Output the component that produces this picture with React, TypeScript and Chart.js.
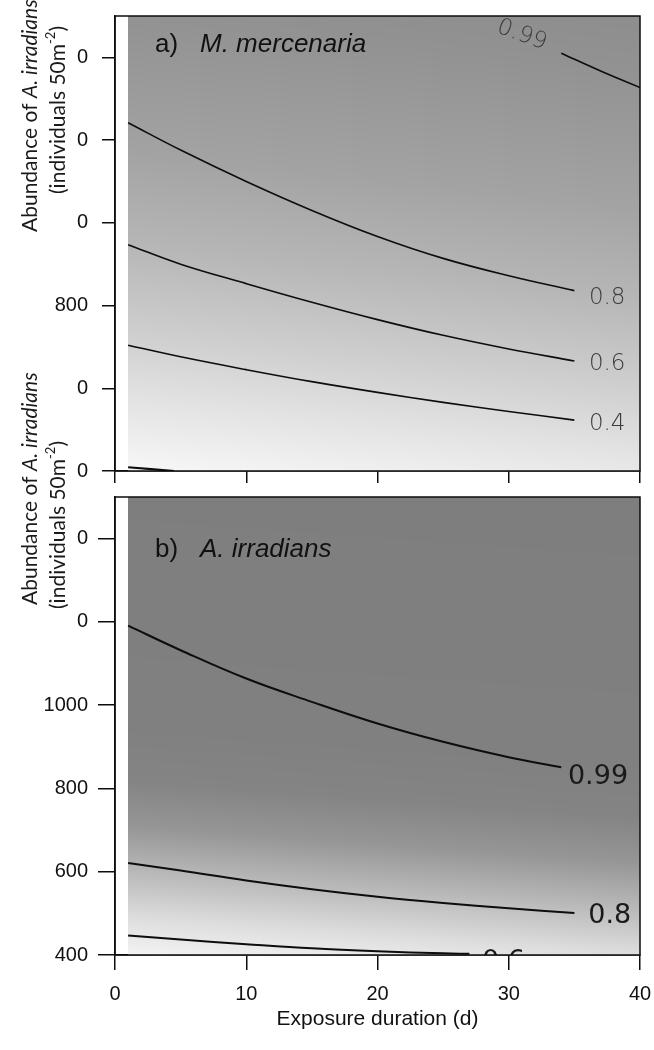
import React, { useEffect, useRef } from "react";
import { Chart, registerables } from "chart.js";

Chart.register(...registerables);

const W = 654;
const H = 1050;

// ---- shared axes ----
const yTickValues = [400, 600, 800, 1000, 1200, 1400];
const xTickValues = [0, 10, 20, 30, 40];
const yTickTextA = ["0", "0", "800", "0", "0", "0"];
const yTickTextB = ["400", "600", "800", "1000", "0", "0"];
const xTickText = ["0", "10", "20", "30", "40"];
const shadeStartDay = 1;

// ---- panel a: M. mercenaria (contours of probability) ----
const daysA = [1, 5, 10, 15, 20, 25, 30, 35];
const mercP80 = [1242, 1176, 1100, 1030, 967, 914, 872, 836];
const mercP60 = [947, 900, 853, 808, 766, 728, 695, 666];
const mercP40 = [704, 676, 645, 616, 590, 566, 544, 523];
const mercP99Days = [34, 37, 40];
const mercP99 = [1410, 1367, 1327];
const mercP20Days = [1, 4.5];
const mercP20 = [409, 400];

// ---- panel b: A. irradians ----
const irrP99Days = [1, 5, 10, 15, 20, 25, 30, 34];
const irrP99 = [1191, 1132, 1064, 1008, 956, 912, 875, 851];
const irrP80Days = [1, 5, 10, 15, 20, 25, 30, 35];
const irrP80 = [621, 603, 579, 558, 540, 525, 512, 501];
const irrP60Days = [1, 5, 10, 15, 20, 25, 27];
const irrP60 = [447, 437, 426, 416, 409, 404, 403];

// contour label anchors (data units)
const labelsA = [
  { text: "0.99", x: 31.0, y: 1454, rot: 20 },
  { text: "0.8", x: 37.5, y: 818, rot: 0 },
  { text: "0.6", x: 37.5, y: 659, rot: 0 },
  { text: "0.4", x: 37.5, y: 514, rot: 0 },
];
const labelsB = [
  { text: "0.99", x: 36.8, y: 827, rot: 0 },
  { text: "0.8", x: 37.7, y: 494, rot: 0 },
  { text: "0.6", x: 29.6, y: 383, rot: 0 },
];

const shadeStopsA: [number, number][] = [
  [-0.2, 138], [0, 146], [0.3, 163], [0.5, 182], [0.7, 207], [0.85, 228], [1.0, 247],
];
const shadeStopsB: [number, number][] = [
  [-0.1, 126], [0.5, 128], [0.62, 132], [0.72, 150], [0.82, 185], [0.92, 222], [1.0, 243],
];

const SANS = '"Liberation Sans", Arial, sans-serif';
const HUMAN = 'Lato, "Open Sans", sans-serif';
const DEJA = '"DejaVu Sans", sans-serif';

type Seg = { t: string; italic?: boolean; sup?: boolean };
const yTitle1: Seg[] = [{ t: "Abundance of " }, { t: "A. irradians", italic: true }];
const yTitle2: Seg[] = [{ t: "(individuals 50m" }, { t: "-2", sup: true }, { t: ")" }];

function interp(stops: [number, number][], s: number) {
  if (s <= stops[0][0]) return stops[0][1];
  for (let i = 1; i < stops.length; i++) {
    if (s <= stops[i][0]) {
      const [s0, g0] = stops[i - 1];
      const [s1, g1] = stops[i];
      return g0 + ((s - s0) / (s1 - s0)) * (g1 - g0);
    }
  }
  return stops[stops.length - 1][1];
}

function drawRotRich(
  ctx: CanvasRenderingContext2D, segs: Seg[], x: number, y: number,
  size: number, anchor: "start" | "center"
) {
  ctx.save();
  ctx.translate(x, y);
  ctx.rotate(-Math.PI / 2);
  const font = (s: Seg) =>
    `${s.italic ? "italic " : ""}${s.sup ? Math.round(size * 0.62) : size}px ${HUMAN}`;
  let total = 0;
  for (const s of segs) {
    ctx.font = font(s);
    total += ctx.measureText(s.t).width;
  }
  let cx = anchor === "center" ? -total / 2 : 0;
  ctx.textBaseline = "middle";
  ctx.textAlign = "left";
  ctx.fillStyle = "#1a1a1a";
  for (const s of segs) {
    ctx.font = font(s);
    ctx.fillText(s.t, cx, s.sup ? -size * 0.33 : 0);
    cx += ctx.measureText(s.t).width;
  }
  ctx.restore();
}

function ds(xs: number[], ys: number[], width: number) {
  return {
    data: xs.map((x, i) => ({ x, y: ys[i] })),
    borderColor: "#0d0d0d",
    borderWidth: width,
    pointRadius: 0,
    fill: false,
    tension: 0.4,
  };
}

function makePlugins(
  stops: [number, number][], tilt: number,
  labels: { text: string; x: number; y: number; rot: number }[],
  labelFont: string, labelColor: string,
  panelLetter: string, panelName: string, letterBaseline: number,
  title1Start: number, title2Center: number
) {
  return [
    {
      id: "shade",
      beforeDatasetsDraw(chart: any) {
        const { ctx, chartArea, scales } = chart;
        const x0 = Math.round(scales.x.getPixelForValue(shadeStartDay));
        const x1 = Math.round(chartArea.right);
        const y0 = Math.round(chartArea.top);
        const y1 = Math.round(chartArea.bottom);
        const w = x1 - x0;
        const h = y1 - y0;
        const img = ctx.createImageData(w, h);
        for (let j = 0; j < h; j++) {
          const t = (j + 0.5) / h;
          for (let i = 0; i < w; i++) {
            const u = (i + 0.5) / w;
            const g = interp(stops, t - tilt * u);
            const k = (j * w + i) * 4;
            img.data[k] = g;
            img.data[k + 1] = g;
            img.data[k + 2] = g;
            img.data[k + 3] = 255;
          }
        }
        ctx.putImageData(img, x0, y0);
      },
      afterDatasetsDraw(chart: any) {
        const { ctx, chartArea, scales } = chart;
        ctx.save();
        ctx.beginPath();
        ctx.rect(chartArea.left, chartArea.top, chartArea.right - chartArea.left, chartArea.bottom - chartArea.top);
        ctx.clip();
        ctx.font = labelFont;
        ctx.fillStyle = labelColor;
        ctx.textAlign = "center";
        ctx.textBaseline = "middle";
        for (const l of labels) {
          const px = scales.x.getPixelForValue(l.x);
          const py = scales.y.getPixelForValue(l.y);
          ctx.save();
          ctx.translate(px, py);
          ctx.rotate((l.rot * Math.PI) / 180);
          ctx.fillText(l.text, 0, 0);
          ctx.restore();
        }
        ctx.restore();

        // panel box
        ctx.save();
        ctx.strokeStyle = "#0d0d0d";
        ctx.lineWidth = 1.5;
        ctx.strokeRect(chartArea.left, chartArea.top, chartArea.right - chartArea.left, chartArea.bottom - chartArea.top);
        ctx.restore();

        // panel heading
        ctx.save();
        ctx.fillStyle = "#111";
        ctx.textAlign = "left";
        ctx.textBaseline = "alphabetic";
        ctx.font = `26px ${SANS}`;
        ctx.fillText(panelLetter, 155, letterBaseline);
        ctx.font = `italic 26px ${SANS}`;
        ctx.fillText(panelName, 200, letterBaseline);
        ctx.restore();

        // y titles
        drawRotRich(ctx, yTitle1, 30, title1Start, 21, "start");
        drawRotRich(ctx, yTitle2, 58, title2Center, 21, "center");
      },
    },
  ];
}

function zeroPad(s: any) {
  s.paddingTop = 0;
  s.paddingBottom = 0;
  s.paddingLeft = 0;
  s.paddingRight = 0;
}

function scalesFor(yText: string[], xHeight: number, showX: boolean, yTick: number, yPad: number, xTick: number) {
  return {
    x: {
      type: "linear" as const,
      min: 0,
      max: 40,
      afterBuildTicks: (s: any) => {
        s.ticks = xTickValues.map((v) => ({ value: v }));
      },
      afterFit: (s: any) => {
        s.height = xHeight;
        zeroPad(s);
      },
      ticks: {
        display: showX,
        callback: (_v: any, i: number) => xTickText[i],
        font: { family: SANS, size: 20 },
        color: "#111",
        padding: 12,
        maxRotation: 0,
      },
      grid: { drawOnChartArea: false, drawTicks: true, tickLength: xTick, color: "#0d0d0d", lineWidth: 1.5 },
      border: { display: true, color: "#0d0d0d", width: 1.5 },
      title: {
        display: showX,
        text: "Exposure duration (d)",
        font: { family: SANS, size: 21 },
        color: "#111",
        padding: { top: 0, bottom: 18 },
      },
    },
    y: {
      type: "linear" as const,
      min: 400,
      max: 1500,
      afterBuildTicks: (s: any) => {
        s.ticks = yTickValues.map((v) => ({ value: v }));
      },
      afterFit: (s: any) => {
        s.width = 115;
        zeroPad(s);
      },
      ticks: {
        callback: (_v: any, i: number) => yText[i],
        font: { family: SANS, size: 20 },
        color: "#111",
        padding: yPad,
      },
      grid: { drawOnChartArea: false, drawTicks: true, tickLength: yTick, color: "#0d0d0d", lineWidth: 1.5 },
      border: { display: true, color: "#0d0d0d", width: 1.5 },
    },
  };
}

export default function App() {
  const refA = useRef<HTMLCanvasElement>(null);
  const refB = useRef<HTMLCanvasElement>(null);

  useEffect(() => {
    const chartA = new Chart(refA.current!, {
      type: "line",
      data: {
        datasets: [
          ds(daysA, mercP80, 1.6),
          ds(daysA, mercP60, 1.6),
          ds(daysA, mercP40, 1.6),
          ds(mercP99Days, mercP99, 1.6),
          ds(mercP20Days, mercP20, 2.2),
        ],
      },
      options: {
        responsive: false,
        animation: false,
        devicePixelRatio: 1,
        layout: { padding: { left: 0, top: 16, right: 14, bottom: H - 471 - 20 } },
        plugins: { legend: { display: false }, tooltip: { enabled: false } },
        scales: scalesFor(yTickTextA, 20, false, 13, 14, 12) as any,
      },
      plugins: makePlugins(
        shadeStopsA, 0.12, labelsA, `200 23px ${DEJA}`, "#3c3c3c",
        "a)", "M. mercenaria", 52, 232, 110
      ) as any,
    });

    const chartB = new Chart(refB.current!, {
      type: "line",
      data: {
        datasets: [
          ds(irrP99Days, irrP99, 2),
          ds(irrP80Days, irrP80, 2),
          ds(irrP60Days, irrP60, 2),
        ],
      },
      options: {
        responsive: false,
        animation: false,
        devicePixelRatio: 1,
        layout: { padding: { left: 0, top: 497, right: 14, bottom: 0 } },
        plugins: { legend: { display: false }, tooltip: { enabled: false } },
        scales: scalesFor(yTickTextB, 95, true, 17, 10, 15) as any,
      },
      plugins: makePlugins(
        shadeStopsB, 0.08, labelsB, `27px ${DEJA}`, "#1a1a1a",
        "b)", "A. irradians", 557, 605, 525
      ) as any,
    });

    return () => {
      chartA.destroy();
      chartB.destroy();
    };
  }, []);

  return (
    <div
      style={{
        position: "absolute",
        left: 0,
        top: 0,
        width: W,
        height: H,
        background: "#fff",
        overflow: "hidden",
      }}
    >
      <canvas ref={refA} width={W} height={H} style={{ position: "absolute", left: 0, top: 0 }} />
      <canvas ref={refB} width={W} height={H} style={{ position: "absolute", left: 0, top: 0 }} />
    </div>
  );
}
